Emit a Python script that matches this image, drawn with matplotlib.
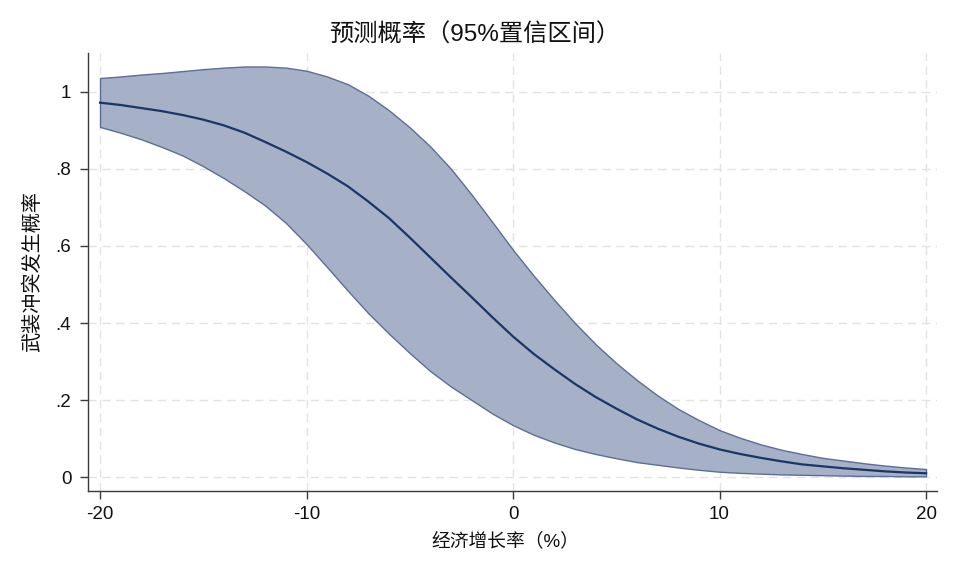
import matplotlib
matplotlib.use("Agg")
import matplotlib.pyplot as plt

plt.rcParams['font.family'] = ['Liberation Sans', 'Noto Sans CJK SC', 'DejaVu Sans']

growth = list(range(-20, 21))
prob = [0.972, 0.966, 0.958, 0.950, 0.940, 0.928, 0.913, 0.894, 0.870, 0.845,
        0.818, 0.788, 0.755, 0.715, 0.672, 0.622, 0.570, 0.518, 0.467, 0.415,
        0.365, 0.320, 0.280, 0.242, 0.208, 0.178, 0.150, 0.126, 0.105, 0.087,
        0.072, 0.060, 0.050, 0.041, 0.033, 0.028, 0.023, 0.019, 0.015, 0.012,
        0.010]
upper = [1.036, 1.040, 1.045, 1.049, 1.054, 1.059, 1.063, 1.066, 1.066, 1.063,
         1.055, 1.040, 1.020, 0.990, 0.952, 0.908, 0.858, 0.800, 0.733, 0.662,
         0.590, 0.523, 0.460, 0.400, 0.345, 0.296, 0.252, 0.212, 0.177, 0.148,
         0.122, 0.102, 0.085, 0.071, 0.060, 0.050, 0.043, 0.036, 0.030, 0.025,
         0.021]
lower = [0.909, 0.894, 0.877, 0.857, 0.835, 0.807, 0.776, 0.742, 0.705, 0.660,
         0.605, 0.545, 0.484, 0.425, 0.372, 0.322, 0.275, 0.235, 0.200, 0.165,
         0.135, 0.110, 0.090, 0.073, 0.060, 0.049, 0.039, 0.032, 0.025, 0.019,
         0.014, 0.011, 0.009, 0.007, 0.006, 0.005, 0.004, 0.003, 0.003, 0.002,
         0.002]

xticks = [-20, -10, 0, 10, 20]
yticks = [0, 0.2, 0.4, 0.6, 0.8, 1.0]
ytick_labels = ["0", ".2", ".4", ".6", ".8", "1"]

title = "预测概率（95%置信区间）"
xlabel = "经济增长率（%）"
ylabel = "武装冲突发生概率"

fig = plt.figure(figsize=(9.6, 5.76), dpi=100)
ax = fig.add_axes([0.0917, 0.1476, 0.976 - 0.0917, 0.908 - 0.1476])

ax.fill_between(growth, lower, upper, facecolor='#A6B0C7', edgecolor='#5C6E98',
                linewidth=1.0, zorder=2)
ax.plot(growth, prob, color='#1B3566', linewidth=1.6, zorder=3)

ax.set_xlim(-20.58, 20.53)
ax.set_ylim(-0.036, 1.101)
ax.set_xticks(xticks)
ax.set_xticklabels([str(t) for t in xticks])
ax.set_yticks(yticks)
ax.set_yticklabels(ytick_labels)

ax.grid(True, color='#E3E3E3', linestyle=(0, (6, 4)), linewidth=1.0, zorder=0)
ax.set_axisbelow(True)

for s in ['top', 'right']:
    ax.spines[s].set_visible(False)
for s in ['left', 'bottom']:
    ax.spines[s].set_color('#3A3A3A')
    ax.spines[s].set_linewidth(1.0)

ax.tick_params(axis='both', direction='out', length=6, width=1.0, color='#3A3A3A',
               labelsize=13.5, labelcolor='#111111')
ax.tick_params(axis='x', pad=5)
ax.tick_params(axis='y', pad=6)

ax.set_xlabel(xlabel, fontsize=13.5, color='#111111')
ax.xaxis.set_label_coords(0.491, -0.094)
ax.set_ylabel(ylabel, fontsize=14.5, color='#111111')
ax.yaxis.set_label_coords(-0.054, 0.5)
fig.text(0.495, 0.939, title, ha='center', va='center', fontsize=17.5, color='#111111')

fig.savefig("out.png", dpi=100, facecolor='white')
